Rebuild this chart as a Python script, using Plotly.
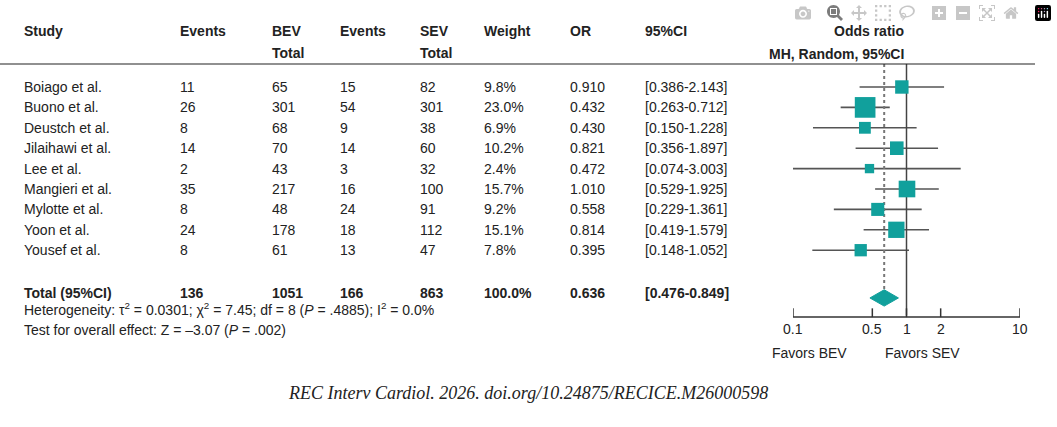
import math
import plotly.graph_objects as go

studies = ["Boiago et al.", "Buono et al.", "Deustch et al.", "Jilaihawi et al.", "Lee et al.",
           "Mangieri et al.", "Mylotte et al.", "Yoon et al.", "Yousef et al."]
ev_bev = [11, 26, 8, 14, 2, 35, 8, 24, 8]
tot_bev = [65, 301, 68, 70, 43, 217, 48, 178, 61]
ev_sev = [15, 54, 9, 14, 3, 16, 24, 18, 13]
tot_sev = [82, 301, 38, 60, 32, 100, 91, 112, 47]
weight = [9.8, 23.0, 6.9, 10.2, 2.4, 15.7, 9.2, 15.1, 7.8]
odds = [0.910, 0.432, 0.430, 0.821, 0.472, 1.010, 0.558, 0.814, 0.395]
lo = [0.386, 0.263, 0.150, 0.356, 0.074, 0.529, 0.229, 0.419, 0.148]
hi = [2.143, 0.712, 1.228, 1.897, 3.003, 1.925, 1.361, 1.579, 1.052]
total = ["Total (95%CI)", "136", "1051", "166", "863", "100.0%", "0.636", "[0.476-0.849]"]
pooled = (0.636, 0.476, 0.849)
ticks = [0.1, 0.5, 1, 2, 10]

W, H = 1057, 427
def py(p):  # pixel row -> paper
    return 1 - p / H

FONT = "Liberation Sans, Arial"
TEAL = "#11a09c"
fig = go.Figure()
rows = list(range(len(studies)))
ytot = 10.34

for i in rows:
    fig.add_trace(go.Scatter(x=[lo[i], hi[i]], y=[i, i], mode="lines",
                             line=dict(color="#555", width=1.6), showlegend=False))
# reference lines
fig.add_trace(go.Scatter(x=[1, 1], y=[-1.13, 11.2], mode="lines", line=dict(color="#444", width=1.5), showlegend=False))
fig.add_trace(go.Scatter(x=[pooled[0]] * 2, y=[-1.13, ytot - 0.3], mode="lines",
                         line=dict(color="#777", width=2, dash="dot"), showlegend=False))
fig.add_trace(go.Scatter(x=odds, y=rows, mode="markers", showlegend=False,
                         marker=dict(symbol="square", color=TEAL, opacity=1, size=[8 + 0.55 * w for w in weight],
                                     line=dict(width=0))))
fig.add_trace(go.Scatter(x=[pooled[1], pooled[0], pooled[2], pooled[0], pooled[1]],
                         y=[ytot, ytot - 0.4, ytot, ytot + 0.4, ytot], mode="lines",
                         fill="toself", fillcolor=TEAL, line=dict(color=TEAL, width=1), showlegend=False))
# bottom axis
fig.add_trace(go.Scatter(x=[0.1, 10], y=[11.28, 11.28], mode="lines", line=dict(color="#333", width=1.5), showlegend=False))
for t in ticks:
    fig.add_trace(go.Scatter(x=[t, t], y=[10.85, 11.28], mode="lines", line=dict(color="#333", width=1.5), showlegend=False))
    fig.add_annotation(x=math.log10(t), y=py(339), yref="paper", text=str(t), showarrow=False,
                       font=dict(size=14, color="#222", family=FONT))

fig.add_shape(type="line", xref="paper", yref="paper", x0=0, x1=1035 / W, y0=py(64), y1=py(64),
              line=dict(color="#222", width=1.2))

cols = [22, 178, 270, 338, 418, 482, 568, 643]
head1 = ["Study", "Events", "BEV", "Events", "SEV", "Weight", "OR", "95%CI"]
head2 = ["", "", "Total", "", "Total", "", "", ""]
for c, a, b in zip(cols, head1, head2):
    fig.add_annotation(x=c / W, y=py(21), xref="paper", yref="paper", text="<b>%s</b>" % a,
                       showarrow=False, xanchor="left", font=dict(size=14, color="#222", family=FONT))
    if b:
        fig.add_annotation(x=c / W, y=py(43), xref="paper", yref="paper", text="<b>%s</b>" % b,
                           showarrow=False, xanchor="left", font=dict(size=14, color="#222", family=FONT))
fig.add_annotation(x=906 / W, y=py(21), xref="paper", yref="paper", text="<b>Odds ratio</b>", showarrow=False,
                   font=dict(size=14, color="#222", family=FONT))
fig.add_annotation(x=906 / W, y=py(44), xref="paper", yref="paper", text="<b>MH, Random, 95%CI</b>", showarrow=False,
                   font=dict(size=14, color="#222", family=FONT))

for i in rows:
    vals = [studies[i], ev_bev[i], tot_bev[i], ev_sev[i], tot_sev[i], "%.1f%%" % weight[i],
            "%.3f" % odds[i], "[%.3f-%.3f]" % (lo[i], hi[i])]
    for c, v in zip(cols, vals):
        fig.add_annotation(x=c / W, y=i, xref="paper", yref="y", text=str(v), showarrow=False,
                           xanchor="left", font=dict(size=14, color="#222", family=FONT))
for c, v in zip(cols, total):
    fig.add_annotation(x=c / W, y=ytot - 0.25, xref="paper", yref="y", text="<b>%s</b>" % v, showarrow=False,
                       xanchor="left", font=dict(size=14, color="#222", family=FONT))

fig.add_annotation(x=22 / W, y=py(320), xref="paper", yref="paper", showarrow=False, xanchor="left",
                   text="Heterogeneity: τ<sup>2</sup> = 0.0301; χ<sup>2</sup> = 7.45; df = 8 (<i>P</i> = .4885); I<sup>2</sup> = 0.0%",
                   font=dict(size=14, color="#222", family=FONT))
fig.add_annotation(x=22 / W, y=py(340), xref="paper", yref="paper", showarrow=False, xanchor="left",
                   text="Test for overall effect: Z = –3.07 (<i>P</i> = .002)",
                   font=dict(size=14, color="#222", family=FONT))
fig.add_annotation(x=849 / W, y=py(363), xref="paper", yref="paper", text="Favors BEV", showarrow=False,
                   font=dict(size=14, color="#222", family=FONT))
fig.add_annotation(x=962 / W, y=py(363), xref="paper", yref="paper", text="Favors SEV", showarrow=False,
                   font=dict(size=14, color="#222", family=FONT))
fig.add_annotation(x=528 / W, y=py(405), xref="paper", yref="paper", showarrow=False,
                   text="<i>REC Interv Cardiol. 2026. doi.org/10.24875/RECICE.M26000598</i>",
                   font=dict(size=18, color="#222", family="Liberation Serif, Times New Roman"))

fig.update_layout(width=W, height=H, margin=dict(l=0, r=0, t=0, b=0),
                  paper_bgcolor="white", plot_bgcolor="white",
                  xaxis=dict(type="log", range=[-1, 1], domain=[793 / W, 1020 / W], visible=False),
                  yaxis=dict(range=[(H - 87) / 20.4, -87 / 20.4], visible=False))
fig.write_html("out.html", post_script="document.body.style.margin='0';document.body.style.overflow='hidden';")
